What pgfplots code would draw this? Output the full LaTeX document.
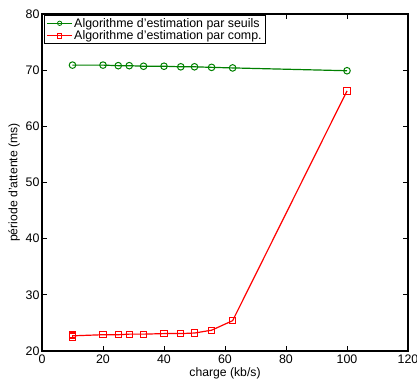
\documentclass[border=0pt]{standalone}
\usepackage{pgfplots}
\pgfplotsset{compat=1.18}
\usepackage{fontspec}
\setmainfont{Liberation Sans}
\definecolor{mgreen}{rgb}{0,0.5,0}
\begin{document}
\begin{tikzpicture}
\begin{axis}[
  name=ax,
  scale only axis,
  width=366bp, height=337bp,
  xmin=0, xmax=120, ymin=20, ymax=80,
  xtick={0,20,...,120}, ytick={20,30,...,80},
  tick align=inside, tick pos=both,
  major tick length=5bp,
  axis line style={line width=1.1pt},
  tick style={line width=0.8pt, black},
  /pgf/number format/assume math mode=true,
  ticklabel style={font=\fontsize{12.4bp}{14bp}\selectfont},
  yticklabel style={xshift=1bp},
  label style={font=\fontsize{12.2bp}{14bp}\selectfont},
  xlabel={charge (kb/s)},
  ylabel={période d'attente (ms)},
  xlabel style={at={(rel axis cs:0.5,0)}, anchor=center, yshift=-22bp},
  ylabel style={yshift=-1bp},
  legend style={at={(rel axis cs:0,1)}, anchor=north west, xshift=2bp, yshift=-1bp,
    font=\fontsize{12.4bp}{14bp}\selectfont, draw=black, line width=1.1pt,
    inner xsep=2bp, inner ysep=1bp, row sep=-1bp,
    nodes={inner sep=1.5bp}},
  legend cell align=left,
  legend image code/.code={\draw[#1, mark=none] (0bp,0bp) -- (25bp,0bp); \draw[#1, mark size=2.2bp, mark options={line width=0.8pt}] plot coordinates {(12.5bp,0bp)};},
]
\addplot[mgreen, line width=1.2pt, mark=o, mark size=3.3bp, mark options={line width=1pt}] coordinates {
(10,70.9) (20,70.9) (25,70.8) (28.6,70.8) (33.3,70.7) (40,70.7) (45.5,70.6) (50,70.6) (55.6,70.5) (62.5,70.4) (100,69.9)
};
\addlegendentry{Algorithme d'estimation par seuils}
\addplot[red, line width=1.2pt, mark=square, mark size=3.1bp, mark options={line width=1pt}] coordinates {
(10,22.7) (20,22.9) (25,22.9) (28.6,23.0) (33.3,23.0) (40,23.1) (45.5,23.1) (50,23.2) (55.6,23.7) (62.5,25.4) (100,66.3)
};
\addlegendentry{Algorithme d'estimation par comp.}
\addplot[red, line width=1.2pt, mark=square, mark size=3.1bp, mark options={line width=1pt}, forget plot] coordinates {(10,22.5) (10,22.9)};
\end{axis}
\pgfresetboundingbox
\path (ax.south west) ++(-42bp,-34bp) rectangle ++(417bp,385bp);
\end{tikzpicture}
\end{document}
